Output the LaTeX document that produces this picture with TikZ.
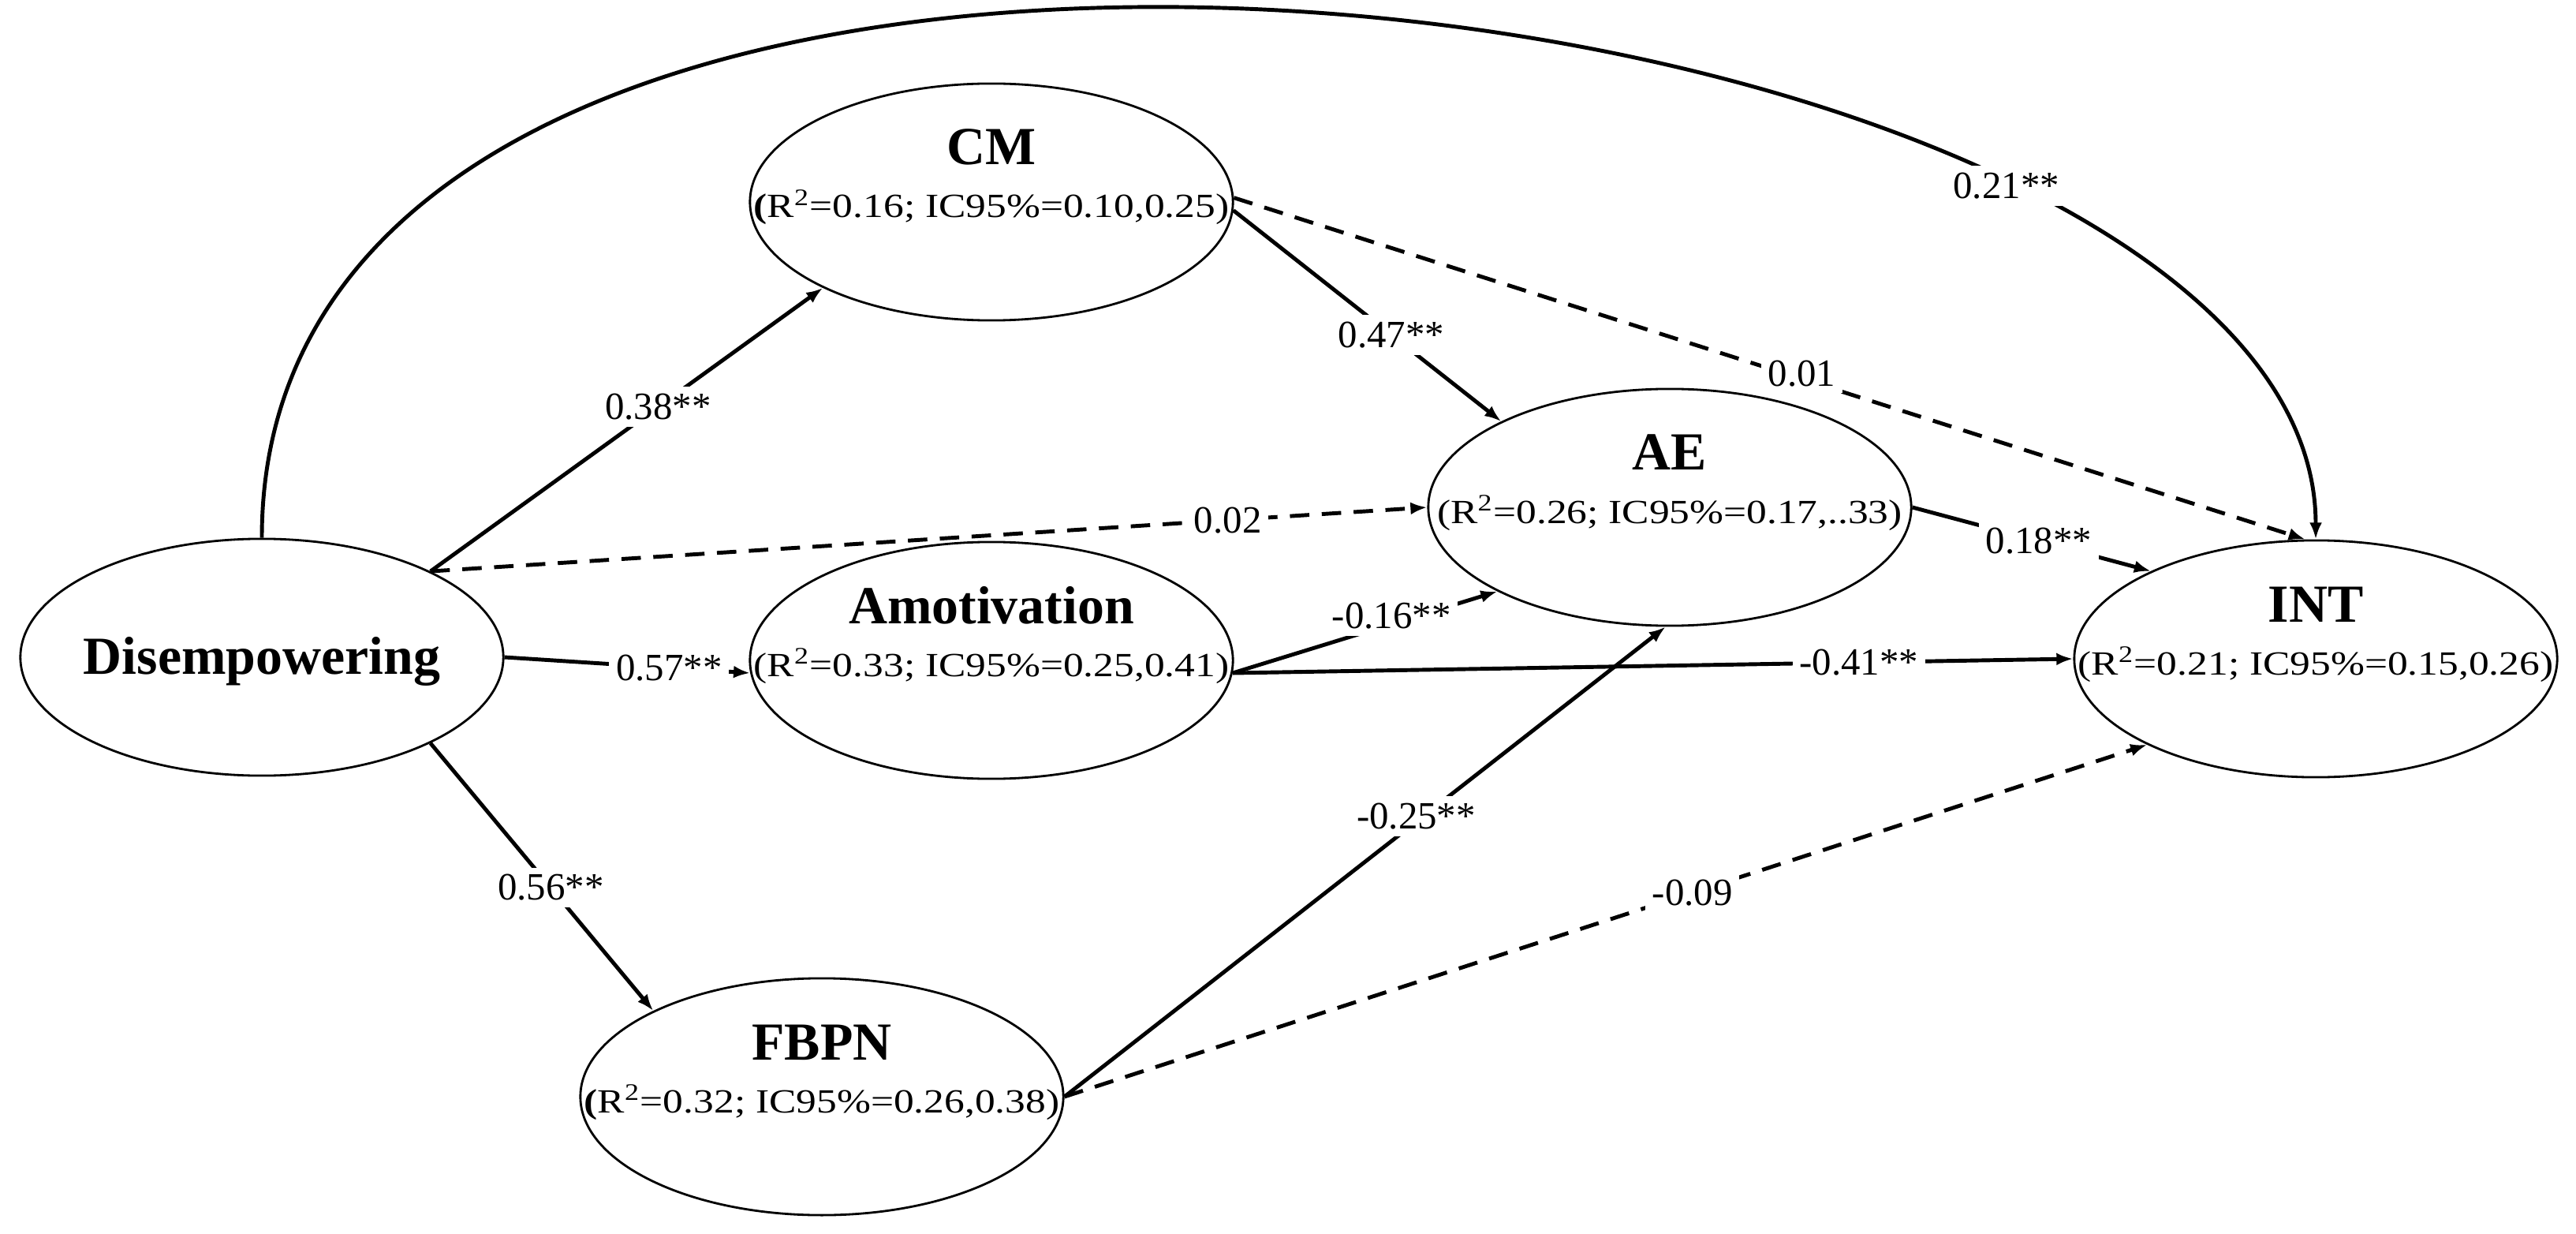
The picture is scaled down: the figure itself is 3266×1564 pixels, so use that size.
\documentclass[tikz,border=0pt]{standalone}
\usepackage{fontspec}
\setmainfont{Liberation Serif}
\newfontfamily\widerm{Liberation Serif}[FakeStretch=1.2]
\usetikzlibrary{calc,shapes,arrows.meta}

\tikzset{
  latent/.style={draw,ellipse,line width=0.8pt,minimum width=6.12cm,minimum height=3cm,inner sep=0pt},
  ttl/.style={anchor=base,inner sep=0pt,font=\fontsize{19.3}{23}\selectfont\bfseries},
  sub/.style={anchor=base,inner sep=0pt,font=\widerm\fontsize{12.2}{14}\selectfont},
  coef/.style={fill=white,inner sep=2.5pt,font=\fontsize{13.9}{16}\selectfont},
  eff/.style={->,line width=1.4pt},
  ns/.style={dash pattern=on 7pt off 4.5pt}
}

\begin{document}
\begin{tikzpicture}[x=0.01cm,y=-0.01cm,>={Latex[length=6pt,width=4.5pt]}]
        \useasboundingbox (0,0) rectangle (3266,1564);
        \node[latent] (dis) at (332,833) {};
        \node[latent] (cm) at (1257,256) {};
        \node[latent] (amot) at (1257,837) {};
        \node[latent] (fbpn) at (1042,1390) {};
        \node[latent] (ae) at (2117,643) {};
        \node[latent] (int) at (2936,835) {};
        \node[ttl] (disT) at ($(dis)+(0,21)$) {Disempowering};
        \node[ttl] (cmT) at ($(cm)+(0,-47)$) {CM};
        \node[sub] (cmS) at ($(cm)+(0,20)$) {\textbf{(}R\textsuperscript{2}=0.16; IC95\%=0.10,0.25)};
        \node[ttl] (amotT) at ($(amot)+(0,-47)$) {Amotivation};
        \node[sub] (amotS) at ($(amot)+(0,20)$) {(R\textsuperscript{2}=0.33; IC95\%=0.25,0.41)};
        \node[ttl] (fbpnT) at ($(fbpn)+(0,-47)$) {FBPN};
        \node[sub] (fbpnS) at ($(fbpn)+(0,20)$) {\textbf{(}R\textsuperscript{2}=0.32; IC95\%=0.26,0.38)};
        \node[ttl] (aeT) at ($(ae)+(0,-47)$) {AE};
        \node[sub] (aeS) at ($(ae)+(0,20)$) {(R\textsuperscript{2}=0.26; IC95\%=0.17,..33)};
        \node[ttl] (intT) at ($(int)+(0,-47)$) {INT};
        \node[sub] (intS) at ($(int)+(0,20)$) {(R\textsuperscript{2}=0.21; IC95\%=0.15,0.26)};
        \path[eff] (dis.27) edge node[coef,pos=.58] (k1) {0.38**} (cm.207)
                   (dis.27) edge[ns] node[coef,pos=.8] (k2) {0.02} (ae.west)
                   (dis.east) edge node[coef,pos=.67] (k3) {0.57**} (amot.183)
                   (dis.-27) edge node[coef,pos=.54] (k4) {0.56**} (fbpn.153)
                   (cm.-2) edge node[coef,pos=.59] (k5) {0.47**} (ae.153)
                   (cm.1) edge[ns] node[coef,pos=.53,yshift=2pt] (k6) {0.01} (int.95)
                   (amot.-3) edge node[coef,pos=.6,yshift=3pt] (k7) {-0.16**} (ae.206)
                   (amot.-3) edge node[coef,pos=.745] (k8) {-0.41**} (int.west)
                   (ae.east) edge node[coef,pos=.53] (k9) {0.18**} (int.152)
                   (fbpn.east) edge node[coef,pos=.585,yshift=2pt] (k10) {-0.25**} (ae.-92)
                   (fbpn.east) edge[ns] node[coef,pos=.58] (k11) {-0.09} (int.207);
        \draw[eff] (dis.north) .. controls +(0,-1049) and +(0,-728) .. (int.north)
                   node[coef,pos=.755] (k12) {0.21**};
\end{tikzpicture}
\end{document}
